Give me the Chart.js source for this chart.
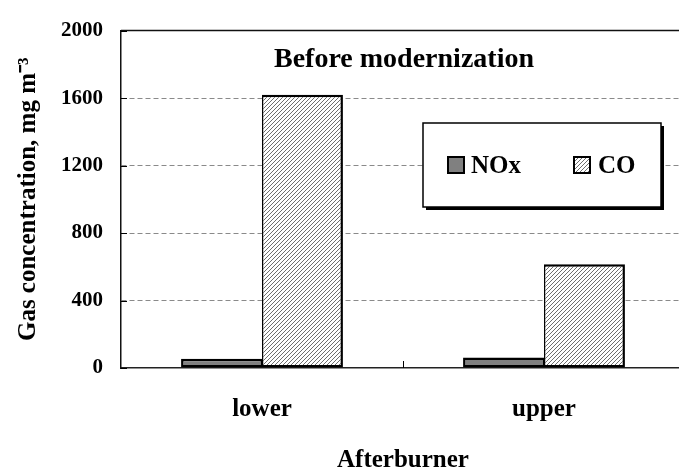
<!DOCTYPE html>
<html>
<head>
<meta charset="utf-8">
<script src="https://cdn.jsdelivr.net/npm/chart.js@4"></script>
<style>
  html, body { margin: 0; padding: 0; background: #fff; overflow: hidden; }
  #wrap { width: 700px; height: 471px; }
</style>
</head>
<body>
<div id="wrap"><canvas id="chart" width="700" height="471"></canvas></div>
<script>
// values
const categories = ["lower", "upper"]
const seriesNames = ["NOx", "CO"]
const noxValues = [55, 62]
const coValues = [1620, 615]
const yTicks = [0, 400, 800, 1200, 1600, 2000]
const chartTitle = "Before modernization"
const xTitle = "Afterburner"
const yTitle = "Gas concentration, mg m\u207B\u00B3"

const serif = "'Liberation Serif', 'Times New Roman', serif"
const canvas = document.getElementById("chart")
const ctx = canvas.getContext("2d")

// diagonal hatch for CO bars
function makeHatch() {
  const tile = document.createElement("canvas")
  tile.width = 4
  tile.height = 4
  const g = tile.getContext("2d")
  g.fillStyle = "#ffffff"
  g.fillRect(0, 0, 4, 4)
  g.fillStyle = "#6e6e6e"
  for (let i = 0; i < 4; i++) g.fillRect(i, 3 - i, 1, 1)
  return ctx.createPattern(tile, "repeat")
}
const hatch = makeHatch()

// frame, inner ticks, title and boxed legend
const decorPlugin = {
  id: "decor",
  afterDraw(chart) {
    const c = chart.ctx
    const a = chart.chartArea
    const y = chart.scales.y
    const x = chart.scales.x
    c.save()

    // top and right frame
    c.strokeStyle = "#111"
    c.lineWidth = 1.5
    c.beginPath()
    c.moveTo(a.left, a.top)
    c.lineTo(a.right, a.top)
    c.lineTo(a.right, a.bottom)
    c.stroke()

    // inside ticks on the value axis
    c.lineWidth = 1
    c.strokeStyle = "#000"
    yTicks.forEach((v) => {
      const py = Math.round(y.getPixelForValue(v)) + 0.5
      c.beginPath()
      c.moveTo(a.left, py)
      c.lineTo(a.left + 6, py)
      c.stroke()
    })
    // tick between categories
    for (let i = 0; i < categories.length - 1; i++) {
      const px = Math.round((x.getPixelForValue(i) + x.getPixelForValue(i + 1)) / 2) + 0.5
      c.beginPath()
      c.moveTo(px, a.bottom)
      c.lineTo(px, a.bottom - 7)
      c.stroke()
    }

    // title inside plot
    c.fillStyle = "#000"
    c.font = "bold 28px " + serif
    c.textAlign = "center"
    c.textBaseline = "alphabetic"
    c.fillText(chartTitle, 404, 67)

    // legend box with shadow
    const bx = 423, by = 123, bw = 238, bh = 84
    c.fillStyle = "#000"
    c.fillRect(bx + 3, by + 3, bw, bh)
    c.fillStyle = "#fff"
    c.fillRect(bx, by, bw, bh)
    c.strokeStyle = "#000"
    c.lineWidth = 1.5
    c.strokeRect(bx, by, bw, bh)

    const items = [
      { px: 448, tx: 471 },
      { px: 574, tx: 598 },
    ]
    c.font = "bold 25px " + serif
    c.textAlign = "left"
    chart.data.datasets.forEach((ds, i) => {
      const it = items[i]
      c.fillStyle = ds.backgroundColor
      c.fillRect(it.px, 157, 16, 16)
      c.lineWidth = 2
      c.strokeStyle = "#000"
      c.strokeRect(it.px, 157, 16, 16)
      c.fillStyle = "#000"
      c.fillText(ds.label, it.tx, 173)
    })

    c.restore()
  },
}

new Chart(canvas, {
  type: "bar",
  data: {
    labels: categories,
    datasets: [
      {
        label: seriesNames[0],
        data: noxValues,
        backgroundColor: "#808080",
        borderColor: "#000",
        borderWidth: { top: 2.5, left: 2.5, right: 1.5, bottom: 2.5 },
        borderSkipped: false,
        categoryPercentage: 0.574,
        barPercentage: 1,
      },
      {
        label: seriesNames[1],
        data: coValues,
        backgroundColor: hatch,
        borderColor: "#000",
        borderWidth: { top: 2.5, left: 1.5, right: 2.5, bottom: 2.5 },
        borderSkipped: false,
        categoryPercentage: 0.574,
        barPercentage: 1,
      },
    ],
  },
  options: {
    responsive: false,
    animation: false,
    devicePixelRatio: 1,
    layout: { padding: { left: 0, right: 15, top: 24, bottom: 0 } },
    plugins: {
      legend: { display: false },
      tooltip: { enabled: false },
    },
    scales: {
      x: {
        grid: { display: false, drawTicks: false },
        border: { display: true, color: "#222", width: 1.5 },
        ticks: {
          color: "#000",
          padding: 27,
          font: { family: serif, size: 25, weight: "bold" },
        },
        title: {
          display: true,
          text: xTitle,
          color: "#000",
          padding: { top: 0, bottom: -2 },
          font: { family: serif, size: 25, weight: "bold", lineHeight: 1 },
        },
        afterFit: (scale) => { scale.height = 103 },
      },
      y: {
        min: 0,
        max: 2000,
        afterBuildTicks: (scale) => { scale.ticks = yTicks.map((v) => ({ value: v })) },
        grid: {
          drawTicks: false,
          lineWidth: 1,
          color: (c) => (c.tick && (c.tick.value === 0 || c.tick.value === 2000) ? "rgba(0,0,0,0)" : "#8a8a8a"),
        },
        border: { display: true, color: "#111", width: 1.5, dash: [5, 3] },
        ticks: {
          color: "#000",
          padding: 18,
          font: { family: serif, size: 21, weight: "bold" },
          callback: (v) => String(v),
        },
        title: {
          display: true,
          text: yTitle,
          color: "#000",
          padding: { top: 14, bottom: 0 },
          font: { family: serif, size: 25, weight: "bold" },
        },
        afterFit: (scale) => { scale.width = 121 },
      },
    },
  },
  plugins: [decorPlugin],
})
</script>
</body>
</html>
